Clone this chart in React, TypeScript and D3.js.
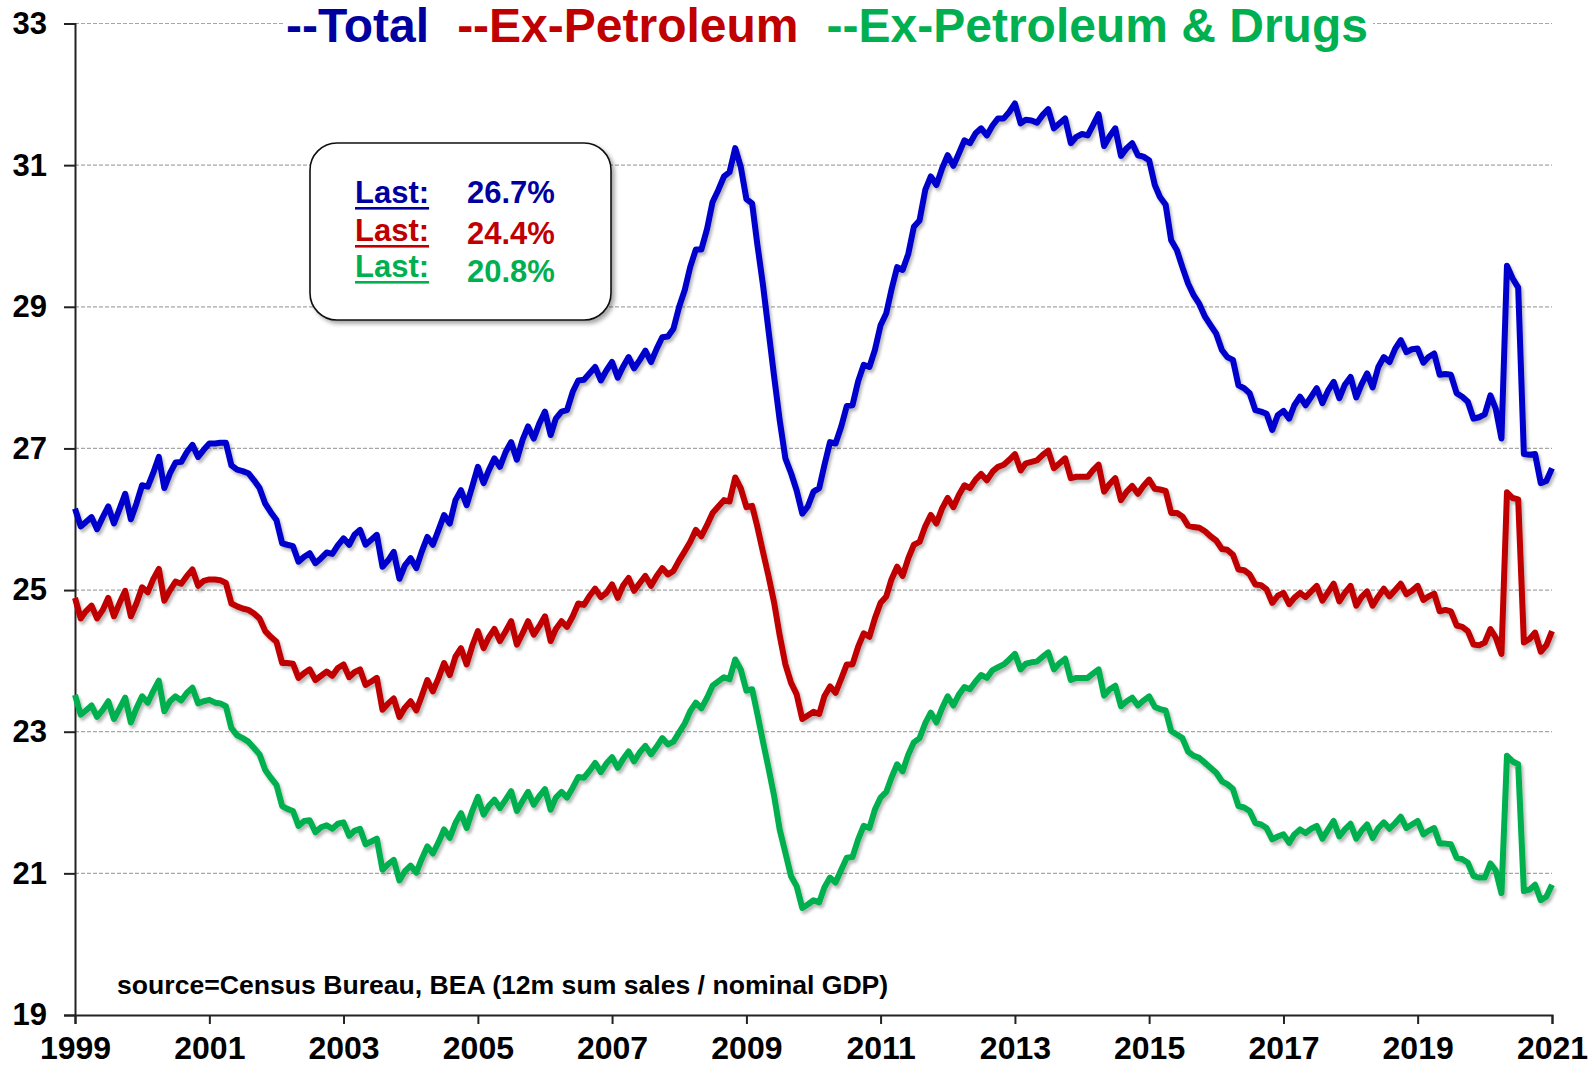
// App.tsx  retail sales as share of GDP, three monthly series

import React, { useEffect, useRef } from "react";
import * as d3 from "d3";

// monthly values, Jan 1999 .. Jan 2021 (one row per year)
const total = [
  26.15, 25.9, 25.96, 26.03, 25.86, 26.03, 26.18, 25.94, 26.15, 26.36, 26.0, 26.22,
  26.48, 26.46, 26.65, 26.88, 26.44, 26.65, 26.8, 26.81, 26.95, 27.05, 26.88, 26.98,
  27.07, 27.07, 27.08, 27.08, 26.76, 26.7, 26.68, 26.65, 26.55, 26.44, 26.22, 26.1,
  25.99, 25.66, 25.64, 25.62, 25.4, 25.47, 25.52, 25.38, 25.45, 25.53, 25.51, 25.63,
  25.73, 25.64, 25.78, 25.85, 25.64, 25.71, 25.78, 25.33, 25.42, 25.54, 25.16, 25.35,
  25.45, 25.31, 25.54, 25.75, 25.64, 25.85, 26.06, 25.94, 26.27, 26.41, 26.2, 26.46,
  26.74, 26.51, 26.69, 26.86, 26.74, 26.95, 27.09, 26.84, 27.12, 27.31, 27.14, 27.35,
  27.52, 27.19, 27.42, 27.52, 27.54, 27.8, 27.96, 27.97, 28.06, 28.15, 27.96, 28.1,
  28.22, 28.0, 28.15, 28.29, 28.13, 28.25, 28.38, 28.22, 28.41, 28.57, 28.58, 28.69,
  29.0, 29.24, 29.56, 29.81, 29.81, 30.1, 30.48, 30.65, 30.84, 30.9, 31.24, 30.98,
  30.52, 30.46, 29.89, 29.31, 28.67, 28.01, 27.4, 26.86, 26.65, 26.41, 26.08, 26.18,
  26.39, 26.44, 26.76, 27.09, 27.07, 27.31, 27.6, 27.61, 27.95, 28.18, 28.15, 28.39,
  28.74, 28.91, 29.24, 29.56, 29.52, 29.75, 30.13, 30.22, 30.65, 30.84, 30.72, 30.95,
  31.14, 30.99, 31.16, 31.35, 31.31, 31.45, 31.52, 31.42, 31.56, 31.66, 31.66, 31.75,
  31.87, 31.59, 31.64, 31.63, 31.6, 31.71, 31.79, 31.52, 31.59, 31.66, 31.31, 31.4,
  31.44, 31.42, 31.56, 31.72, 31.27, 31.41, 31.52, 31.13, 31.24, 31.31, 31.14, 31.12,
  31.07, 30.72, 30.55, 30.44, 29.94, 29.8, 29.56, 29.33, 29.16, 29.04, 28.86, 28.74,
  28.62, 28.39, 28.29, 28.25, 27.89, 27.85, 27.78, 27.54, 27.52, 27.49, 27.26, 27.47,
  27.53, 27.42, 27.61, 27.73, 27.61, 27.73, 27.85, 27.64, 27.82, 27.94, 27.71, 27.9,
  28.01, 27.72, 27.9, 28.06, 27.86, 28.15, 28.29, 28.22, 28.41, 28.53, 28.36, 28.4,
  28.41, 28.21, 28.29, 28.34, 28.04, 28.05, 28.04, 27.78, 27.73, 27.66, 27.42, 27.44,
  27.48, 27.75, 27.56, 27.14, 29.58, 29.4, 29.27, 26.92, 26.91, 26.92, 26.51, 26.54,
  26.72,
];

const exPetroleum = [
  24.89, 24.6, 24.7, 24.78, 24.6, 24.72, 24.89, 24.63, 24.82, 24.99, 24.63, 24.81,
  25.04, 24.97, 25.15, 25.3, 24.85, 25.0, 25.12, 25.09, 25.2, 25.29, 25.06, 25.13,
  25.15, 25.15, 25.14, 25.1, 24.81, 24.77, 24.74, 24.72, 24.67, 24.6, 24.42, 24.34,
  24.27, 23.97, 23.97, 23.96, 23.76, 23.83, 23.88, 23.73, 23.79, 23.85, 23.79, 23.9,
  23.95, 23.77, 23.84, 23.88, 23.66, 23.71, 23.76, 23.31, 23.4, 23.47, 23.21, 23.34,
  23.43, 23.3, 23.5, 23.73, 23.57, 23.76, 23.97, 23.8, 24.06, 24.18, 23.95, 24.21,
  24.42, 24.18, 24.33, 24.45, 24.28, 24.42, 24.56, 24.23, 24.39, 24.56, 24.37, 24.49,
  24.63, 24.28, 24.45, 24.56, 24.48, 24.63, 24.81, 24.79, 24.92, 25.02, 24.9, 24.96,
  25.08, 24.89, 25.06, 25.17, 24.99, 25.1, 25.2, 25.06, 25.2, 25.31, 25.22, 25.27,
  25.42, 25.55, 25.68, 25.85, 25.76, 25.92, 26.09, 26.18, 26.27, 26.25, 26.59, 26.44,
  26.17, 26.19, 25.9, 25.54, 25.2, 24.82, 24.36, 23.95, 23.69, 23.53, 23.18, 23.23,
  23.28, 23.25, 23.5, 23.64, 23.55, 23.75, 23.95, 23.95, 24.2, 24.39, 24.34, 24.6,
  24.82, 24.91, 25.15, 25.33, 25.2, 25.45, 25.64, 25.68, 25.9, 26.06, 25.94, 26.15,
  26.3, 26.17, 26.34, 26.48, 26.44, 26.56, 26.64, 26.55, 26.67, 26.74, 26.77, 26.84,
  26.92, 26.69, 26.79, 26.81, 26.83, 26.91, 26.97, 26.72, 26.79, 26.86, 26.58, 26.6,
  26.6, 26.6, 26.69, 26.77, 26.39, 26.5, 26.58, 26.27, 26.39, 26.47, 26.36, 26.47,
  26.56, 26.43, 26.42, 26.4, 26.09, 26.09, 26.04, 25.91, 25.89, 25.88, 25.83, 25.76,
  25.7, 25.58, 25.57, 25.5, 25.29, 25.28, 25.22, 25.08, 25.07, 25.01, 24.82, 24.92,
  24.96, 24.8, 24.89, 24.96, 24.9, 24.98, 25.06, 24.85, 24.97, 25.09, 24.84, 24.96,
  25.06, 24.78, 24.9, 24.98, 24.78, 24.91, 25.02, 24.91, 25.0, 25.09, 24.94, 24.99,
  25.06, 24.86, 24.91, 24.95, 24.7, 24.72, 24.7, 24.5, 24.48, 24.42, 24.23, 24.22,
  24.26, 24.45, 24.33, 24.1, 26.38, 26.3, 26.28, 24.26, 24.31, 24.4, 24.13, 24.22,
  24.42,
];

const exPetroleumDrugs = [
  23.52, 23.24, 23.3, 23.37, 23.21, 23.31, 23.43, 23.18, 23.33, 23.48, 23.13, 23.33,
  23.5, 23.41, 23.57, 23.72, 23.29, 23.43, 23.5, 23.44, 23.55, 23.62, 23.4, 23.43,
  23.45, 23.41, 23.4, 23.36, 23.05, 22.95, 22.91, 22.86, 22.77, 22.68, 22.46, 22.35,
  22.25, 21.95, 21.91, 21.88, 21.67, 21.74, 21.75, 21.58, 21.65, 21.68, 21.63, 21.7,
  21.72, 21.53, 21.6, 21.63, 21.41, 21.45, 21.49, 21.05, 21.13, 21.19, 20.9, 21.03,
  21.11, 21.01, 21.2, 21.38, 21.28, 21.44, 21.62, 21.5, 21.71, 21.85, 21.64, 21.88,
  22.08, 21.83, 21.95, 22.04, 21.92, 22.04, 22.16, 21.88, 22.02, 22.15, 21.97, 22.09,
  22.19, 21.9, 22.07, 22.15, 22.07, 22.21, 22.36, 22.35, 22.45, 22.56, 22.43, 22.55,
  22.64, 22.49, 22.61, 22.72, 22.58, 22.71, 22.8, 22.68, 22.79, 22.91, 22.82, 22.86,
  22.99, 23.12, 23.29, 23.41, 23.33, 23.48, 23.65, 23.71, 23.77, 23.74, 24.02, 23.88,
  23.58, 23.6, 23.26, 22.86, 22.49, 22.09, 21.62, 21.29, 20.96, 20.82, 20.51, 20.56,
  20.62, 20.59, 20.8, 20.94, 20.87, 21.05, 21.22, 21.23, 21.48, 21.67, 21.64, 21.9,
  22.07, 22.15, 22.35, 22.54, 22.44, 22.68, 22.85, 22.91, 23.12, 23.27, 23.13, 23.33,
  23.5, 23.37, 23.52, 23.63, 23.6, 23.71, 23.8, 23.76, 23.87, 23.91, 23.95, 24.02,
  24.1, 23.88, 23.96, 23.98, 23.99, 24.06, 24.12, 23.88, 23.97, 24.03, 23.73, 23.76,
  23.76, 23.76, 23.82, 23.88, 23.51, 23.6, 23.65, 23.36, 23.43, 23.48, 23.37, 23.44,
  23.5, 23.35, 23.32, 23.3, 23.01, 22.96, 22.91, 22.72, 22.66, 22.63, 22.56, 22.49,
  22.42, 22.3, 22.26, 22.19, 21.95, 21.93, 21.88, 21.71, 21.69, 21.64, 21.48, 21.52,
  21.55, 21.43, 21.55, 21.62, 21.57, 21.63, 21.67, 21.49, 21.62, 21.74, 21.52, 21.62,
  21.7, 21.49, 21.6, 21.69, 21.5, 21.64, 21.72, 21.63, 21.71, 21.8, 21.64, 21.69,
  21.74, 21.55, 21.6, 21.64, 21.42, 21.42, 21.41, 21.22, 21.2, 21.15, 20.96, 20.94,
  20.94, 21.14, 21.04, 20.72, 22.66, 22.58, 22.54, 20.75, 20.77, 20.84, 20.62, 20.67,
  20.84,
];

const yTicks = [19, 21, 23, 25, 27, 29, 31, 33];
const yearLabels = [1999, 2001, 2003, 2005, 2007, 2009, 2011, 2013, 2015, 2017, 2019, 2021];
const titleParts = ["--Total", "--Ex-Petroleum", "--Ex-Petroleum & Drugs"];
const lastValues = ["26.7%", "24.4%", "20.8%"];
const sourceNote = "source=Census Bureau, BEA (12m sum sales / nominal GDP)";

const lineColors = ["#0000CC", "#C00000", "#00B050"];
const textColors = ["#0000A0", "#C00000", "#00B050"];
const font = "'Liberation Sans', Arial, sans-serif";

const App = () => {
  const ref = useRef(null);

  useEffect(() => {
    const svg = d3.select(ref.current);
    svg.selectAll("*").remove();

    const left = 75;
    const right = 1552;
    const top = 23.5;
    const bottom = 1015;

    const x = d3
      .scaleTime()
      .domain([new Date(1999, 0, 1), new Date(2021, 0, 1)])
      .range([left, right]);
    const y = d3.scaleLinear().domain([19, 33]).range([bottom, top]);

    const defs = svg.append("defs");
    defs
      .append("filter")
      .attr("id", "lineShadow")
      .attr("x", "-5%")
      .attr("y", "-5%")
      .attr("width", "110%")
      .attr("height", "110%")
      .append("feDropShadow")
      .attr("dx", 2)
      .attr("dy", 3)
      .attr("stdDeviation", 1.6)
      .attr("flood-color", "#000")
      .attr("flood-opacity", 0.28);
    defs
      .append("filter")
      .attr("id", "boxShadow")
      .append("feDropShadow")
      .attr("dx", 3)
      .attr("dy", 3)
      .attr("stdDeviation", 2)
      .attr("flood-color", "#000")
      .attr("flood-opacity", 0.35);

    // gridlines
    svg
      .append("g")
      .selectAll("line")
      .data(yTicks.filter((t) => t > 19))
      .enter()
      .append("line")
      .attr("x1", left)
      .attr("x2", right)
      .attr("y1", (d) => y(d))
      .attr("y2", (d) => y(d))
      .attr("stroke", "#A6A6A6")
      .attr("stroke-width", 1.2)
      .attr("stroke-dasharray", "4,2");

    // y axis
    const yAxis = svg
      .append("g")
      .attr("transform", `translate(${left},0)`)
      .call(d3.axisLeft(y).tickValues(yTicks).tickSize(11).tickPadding(17).tickFormat(d3.format("d")));
    yAxis.select(".domain").attr("stroke", "#222").attr("stroke-width", 2);
    yAxis.selectAll(".tick line").attr("stroke", "#222").attr("stroke-width", 2);
    yAxis
      .selectAll(".tick text")
      .attr("font-family", font)
      .attr("font-weight", "bold")
      .attr("font-size", 31)
      .attr("fill", "#000");

    // x axis
    const xAxis = svg
      .append("g")
      .attr("transform", `translate(0,${bottom})`)
      .call(
        d3
          .axisBottom(x)
          .tickValues(yearLabels.map((yr) => new Date(yr, 0, 1)))
          .tickSize(9)
          .tickPadding(12)
          .tickFormat(d3.timeFormat("%Y"))
      );
    xAxis.select(".domain").attr("stroke", "#222").attr("stroke-width", 2);
    xAxis.selectAll(".tick line").attr("stroke", "#222").attr("stroke-width", 2);
    xAxis
      .selectAll(".tick text")
      .attr("font-family", font)
      .attr("font-weight", "bold")
      .attr("font-size", 32)
      .attr("fill", "#000");

    // series lines
    const line = d3
      .line()
      .x((d, i) => x(new Date(1999, i, 1)))
      .y((d) => y(d));
    [total, exPetroleum, exPetroleumDrugs].forEach((series, i) => {
      svg
        .append("path")
        .datum(series)
        .attr("d", line)
        .attr("fill", "none")
        .attr("stroke", lineColors[i])
        .attr("stroke-width", 6)
        .attr("stroke-linejoin", "round")
        .attr("filter", "url(#lineShadow)");
    });

    // title
    svg
      .append("rect")
      .attr("x", 283)
      .attr("y", 14)
      .attr("width", 1090)
      .attr("height", 22)
      .attr("fill", "#fff");
    const title = svg
      .append("text")
      .attr("x", 827)
      .attr("y", 42)
      .attr("text-anchor", "middle")
      .attr("font-family", font)
      .attr("font-weight", "bold")
      .attr("font-size", 48);
    titleParts.forEach((t, i) => {
      title
        .append("tspan")
        .attr("dx", i === 0 ? 0 : 28)
        .attr("fill", textColors[i])
        .text(t);
    });

    // "Last" box
    svg
      .append("rect")
      .attr("x", 310)
      .attr("y", 143)
      .attr("width", 301)
      .attr("height", 177)
      .attr("rx", 27)
      .attr("fill", "#fff")
      .attr("stroke", "#111")
      .attr("stroke-width", 1.6)
      .attr("filter", "url(#boxShadow)");
    const labelBase = [203, 241, 277];
    const valueBase = [203, 244, 282];
    lastValues.forEach((v, i) => {
      const lbl = svg
        .append("text")
        .attr("x", 355)
        .attr("y", labelBase[i])
        .attr("font-family", font)
        .attr("font-weight", "bold")
        .attr("font-size", 31)
        .attr("fill", textColors[i])
        .text("Last:");
      const w = lbl.node().getComputedTextLength();
      svg
        .append("rect")
        .attr("x", 355)
        .attr("y", labelBase[i] + 4)
        .attr("width", w)
        .attr("height", 2.6)
        .attr("fill", textColors[i]);
      svg
        .append("text")
        .attr("x", 467)
        .attr("y", valueBase[i])
        .attr("font-family", font)
        .attr("font-weight", "bold")
        .attr("font-size", 31)
        .attr("fill", textColors[i])
        .text(v);
    });

    // source
    svg
      .append("text")
      .attr("x", 117)
      .attr("y", 994)
      .attr("font-family", font)
      .attr("font-weight", "bold")
      .attr("font-size", 26.6)
      .attr("fill", "#000")
      .text(sourceNote);
  }, []);

  return (
    <svg
      ref={ref}
      width={1596}
      height={1068}
      style={{ position: "absolute", left: 0, top: 0, background: "#fff" }}
    />
  );
};

export default App;
